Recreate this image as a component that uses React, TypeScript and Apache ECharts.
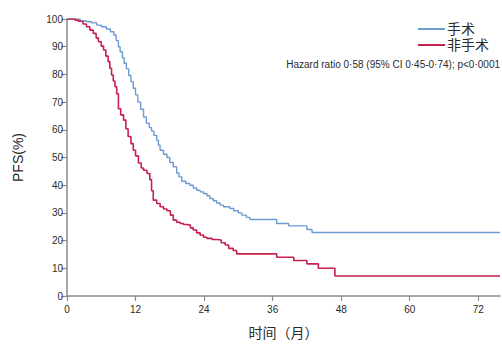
import React, { useEffect, useRef } from "react";
import * as echarts from "echarts";

const surgeryMonths = [0, 2.3, 3.5, 4.3, 5.2, 6.0, 6.9, 7.6, 8.2, 8.6, 9.0, 9.3, 9.7, 10.0, 10.4, 10.8, 11.2, 11.6, 12.0, 12.4, 12.9, 13.4, 13.9, 14.4, 14.8, 15.2, 15.7, 16.0, 16.3, 16.9, 17.5, 18.0, 18.6, 19.2, 19.6, 20.1, 20.8, 21.5, 22.1, 22.7, 23.3, 23.9, 24.5, 25.0, 25.6, 26.2, 26.8, 27.4, 28.5, 29.2, 30.0, 30.6, 31.4, 32.0, 36.7, 38.8, 42.0, 42.9, 75.8];
const surgeryPFS = [100, 99.3, 99, 98.6, 97.8, 97.2, 96.4, 95.4, 94.2, 92.2, 90, 88.2, 86, 84, 82, 79.6, 77.4, 75, 72.6, 70, 67.4, 64.6, 62.4, 60.8, 59.6, 58, 56.2, 54.4, 52.6, 51.2, 50, 48.2, 46.6, 44.4, 43, 41.4, 40.6, 40, 39, 38.2, 37.6, 37, 36.2, 35.2, 34.4, 33.6, 32.8, 32.2, 31.6, 30.8, 30, 29.2, 28.4, 27.6, 26.2, 25.3, 24, 22.9, 22.9];

const nonSurgeryMonths = [0, 1.4, 2.0, 2.8, 3.4, 4.0, 4.6, 5.1, 5.5, 6.0, 6.4, 6.8, 7.2, 7.5, 7.8, 8.1, 8.4, 8.7, 9.0, 9.4, 9.9, 10.3, 10.7, 11.2, 11.6, 12.0, 12.5, 13.0, 13.4, 14.0, 14.5, 14.8, 15.1, 15.7, 16.3, 16.9, 17.5, 18.1, 18.6, 19.2, 19.8, 20.4, 21.0, 21.6, 22.1, 22.7, 23.3, 23.9, 24.5, 25.4, 26.2, 27.0, 27.7, 28.3, 29.1, 29.7, 36.7, 39.7, 42.0, 44.0, 46.9, 75.8];
const nonSurgeryPFS = [100, 99.6, 99.2, 98.2, 97.2, 96, 94.8, 93.2, 91.8, 90.2, 88.8, 86.6, 84.6, 82.2, 79.8, 77.6, 75.6, 73, 67.6, 65.4, 63.5, 60.4, 57.6, 55, 52.6, 50.6, 48, 46.2, 45.4, 44.2, 42, 38, 34.6, 33.4, 32.2, 31.4, 30.8, 29.2, 27.4, 26.6, 26.2, 25.8, 25.6, 24.6, 23.8, 22.8, 22, 21.2, 20.8, 20.4, 20.2, 19.2, 18.4, 17.2, 16.4, 15.2, 14, 12.8, 11.6, 10, 7.2, 7.2];

const seriesNames = ["手术", "非手术"];
const xTicks = [0, 12, 24, 36, 48, 60, 72];
const annotation = "Hazard ratio 0·58 (95% CI 0·45-0·74); p<0·0001";

const BLUE = "#6b9bd2";
const RED = "#c8204c";
const AXIS = "#8a8a8a";
const TXT = "#2a2a2a";
const FONT = "'Liberation Sans', Arial, 'Noto Sans CJK SC', sans-serif";

export default function App() {
  const ref = useRef<HTMLDivElement>(null);
  useEffect(() => {
    if (!ref.current) return;
    const chart = echarts.init(ref.current, null, { renderer: "svg" });
    const pair = (xs: number[], ys: number[]) => xs.map((x, i) => [x, ys[i]]);
    chart.setOption({
      animation: false,
      backgroundColor: "#ffffff",
      grid: { left: 67, top: 19, width: 433, height: 277 },
      legend: {
        orient: "vertical",
        left: 418,
        top: 22,
        padding: 0,
        itemWidth: 27,
        itemHeight: 2,
        itemGap: 2,
        icon: "rect",
        textStyle: { fontSize: 14, lineHeight: 14, color: TXT, fontFamily: FONT, padding: [0, 0, 0, -3] },
        data: seriesNames,
      },
      graphic: [
        {
          type: "text",
          right: 2,
          top: 59,
          style: {
            text: annotation,
            fontSize: 10,
            fontFamily: FONT,
            fill: TXT,
          },
        },
      ],
      xAxis: {
        type: "value",
        min: 0,
        max: 75.8,
        interval: 12,
        name: "时间（月）",
        nameLocation: "middle",
        nameGap: 30,
        nameTextStyle: { fontSize: 14, color: TXT, fontFamily: FONT },
        axisLine: { lineStyle: { color: AXIS, width: 1.5 } },
        axisTick: { show: true, length: 5, lineStyle: { color: AXIS, width: 1.2 } },
        axisLabel: {
          fontSize: 10,
          color: TXT,
          fontFamily: FONT,
          margin: 8,
          showMaxLabel: false,
          formatter: (v: number) => (xTicks.includes(v) ? String(v) : ""),
        },
        splitLine: { show: false },
      },
      yAxis: {
        type: "value",
        min: 0,
        max: 100,
        interval: 10,
        name: "PFS(%)",
        nameLocation: "middle",
        nameGap: 42,
        nameTextStyle: { fontSize: 14, color: TXT, fontFamily: FONT },
        axisLine: { show: true, lineStyle: { color: AXIS, width: 1.5 } },
        axisTick: { show: true, length: 6, lineStyle: { color: AXIS, width: 1.2 } },
        axisLabel: { fontSize: 10, color: TXT, fontFamily: FONT, margin: 4 },
        splitLine: { show: false },
      },
      series: [
        {
          name: seriesNames[0],
          type: "line",
          step: "end",
          showSymbol: false,
          symbol: "none",
          data: pair(surgeryMonths, surgeryPFS),
          lineStyle: { color: BLUE, width: 1.4 },
          itemStyle: { color: BLUE },
          z: 2,
        },
        {
          name: seriesNames[1],
          type: "line",
          step: "end",
          showSymbol: false,
          symbol: "none",
          data: pair(nonSurgeryMonths, nonSurgeryPFS),
          lineStyle: { color: RED, width: 1.6 },
          itemStyle: { color: RED },
          z: 3,
        },
      ],
    });
    return () => chart.dispose();
  }, []);
  return <div ref={ref} style={{ width: 502, height: 345, position: "absolute", left: 0, top: 0 }} />;
}
